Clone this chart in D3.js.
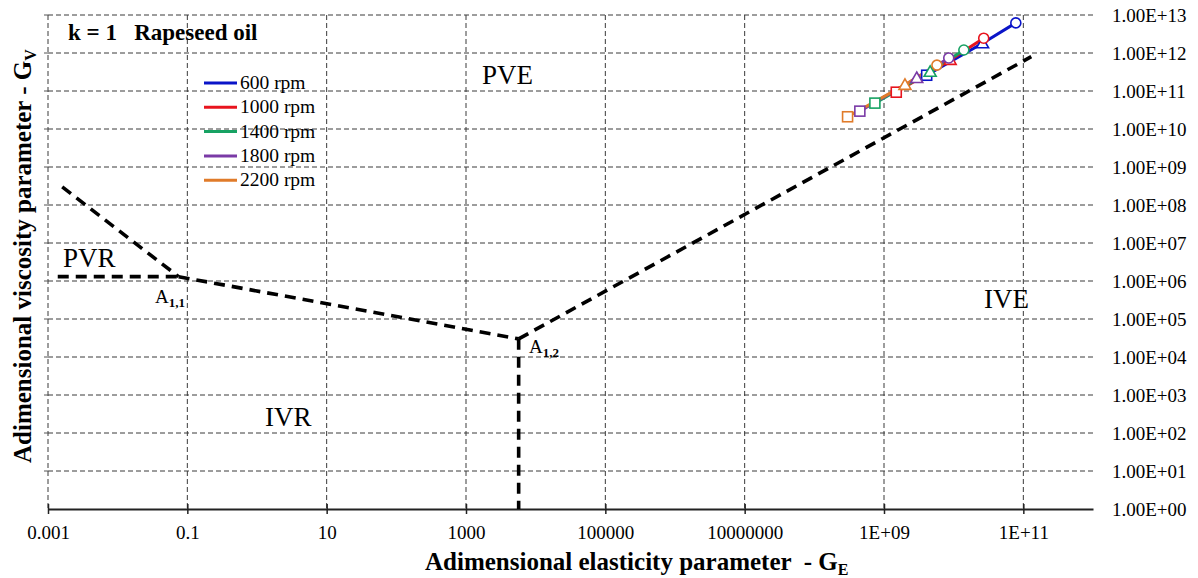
<!DOCTYPE html>
<html><head><meta charset="utf-8">
<script src="https://cdn.jsdelivr.net/npm/d3@7"></script>
<style>body{margin:0;background:#fff}svg{display:block}text{font-family:"Liberation Serif","Times New Roman",serif;fill:#000}</style>
</head><body><svg id="c" width="1198" height="578"></svg>
<script>
// ---- data ----
const xTickValues = [1e-3, 1e-1, 1e1, 1e3, 1e5, 1e7, 1e9, 1e11];
const xTickLabels = ["0.001", "0.1", "10", "1000", "100000", "10000000", "1E+09", "1E+11"];
const yTickValues = [1e0,1e1,1e2,1e3,1e4,1e5,1e6,1e7,1e8,1e9,1e10,1e11,1e12,1e13];
const yTickLabels = ["1.00E+00","1.00E+01","1.00E+02","1.00E+03","1.00E+04","1.00E+05","1.00E+06","1.00E+07","1.00E+08","1.00E+09","1.00E+10","1.00E+11","1.00E+12","1.00E+13"];

const seriesNames = ["600 rpm", "1000 rpm", "1400 rpm", "1800 rpm", "2200 rpm"];
const seriesColors = ["#0a14c8", "#e8141e", "#17a263", "#7a3aa6", "#e07b2a"];
const markerShapes = ["square", "triangle", "circle"];
const rpm600GE  = [4.1e9, 2.6e10, 7.8e10];
const rpm600GV  = [2.6e11, 1.8e12, 6.2e12];
const rpm1000GE = [1.5e9, 8.9e9, 2.7e10];
const rpm1000GV = [9.3e10, 6.6e11, 2.45e12];
const rpm1400GE = [7.4e8, 4.6e9, 1.4e10];
const rpm1400GV = [4.8e10, 3.2e11, 1.2e12];
const rpm1800GE = [4.5e8, 2.95e9, 8.5e9];
const rpm1800GV = [2.95e10, 2.2e11, 7.4e11];
const rpm2200GE = [3.0e8, 2.0e9, 5.75e9];
const rpm2200GV = [2.1e10, 1.45e11, 4.8e11];

// regime boundaries (G_E, G_V)
const pvrHorizontal = [[1.38e-3, 1.3e6], [0.075, 1.3e6]];
const pvrUpper      = [[1.6e-3, 3.0e8], [0.075, 1.3e6]];
const a11ToA12      = [[0.075, 1.3e6], [5700, 3.0e4]];
const a12Vertical   = [[5700, 3.0e4], [5700, 1]];
const a12ToPVE      = [[5700, 3.0e4], [1.3e11, 8.0e11]];

// ---- drawing ----
const svg = d3.select("#c");
const L = 48, R = 1093, T = 15, B = 509;
const x = d3.scaleLog().domain([1e-3, 1e12]).range([L, R]);
const y = d3.scaleLog().domain([1, 1e13]).range([B, T]);

// horizontal grid
svg.append("g").selectAll("line").data(yTickValues.slice(1)).join("line")
  .attr("x1", L).attr("x2", R).attr("y1", d => y(d)).attr("y2", d => y(d))
  .attr("stroke", "#3a3a3a").attr("stroke-width", 1).attr("stroke-dasharray", "5,3");
// vertical grid
svg.append("g").selectAll("line").data(xTickValues).join("line")
  .attr("x1", d => x(d)).attr("x2", d => x(d)).attr("y1", T).attr("y2", B)
  .attr("stroke", "#3a3a3a").attr("stroke-width", 1).attr("stroke-dasharray", "5,3");
// left small ticks
svg.append("g").selectAll("line").data(yTickValues.slice(1)).join("line")
  .attr("x1", L - 4).attr("x2", L).attr("y1", d => y(d)).attr("y2", d => y(d))
  .attr("stroke", "#555").attr("stroke-width", 1);

// x axis
const xAxis = d3.axisBottom(x).tickValues(xTickValues)
  .tickFormat((d, i) => xTickLabels[i]).tickSizeInner(5).tickSizeOuter(0).tickPadding(12);
const gx = svg.append("g").attr("transform", `translate(0,${B})`).call(xAxis);
gx.select(".domain").attr("stroke", "#222").attr("stroke-width", 2);
gx.selectAll(".tick line").attr("stroke", "#222").attr("stroke-width", 1.5).attr("y1", -5).attr("y2", 5);
gx.selectAll(".tick text").attr("font-size", 19).attr("font-family", "Liberation Serif").attr("fill", "#000");

// y labels on right
const yAxis = d3.axisRight(y).tickValues(yTickValues)
  .tickFormat((d, i) => yTickLabels[i]).tickSize(0).tickPadding(0);
const gy = svg.append("g").attr("transform", `translate(1112,0)`).call(yAxis);
gy.select(".domain").remove();
gy.selectAll(".tick text").attr("font-size", 19).attr("font-family", "Liberation Serif").attr("fill", "#000");

// boundaries
const line = d3.line().x(d => x(d[0])).y(d => y(d[1]));
[pvrHorizontal, pvrUpper, a11ToA12, a12Vertical, a12ToPVE].forEach(seg => {
  svg.append("path").attr("d", line(seg)).attr("fill", "none")
    .attr("stroke", "#000").attr("stroke-width", 3.6).attr("stroke-dasharray", "11,7");
});

// series
const series = [
  [rpm600GE, rpm600GV], [rpm1000GE, rpm1000GV], [rpm1400GE, rpm1400GV],
  [rpm1800GE, rpm1800GV], [rpm2200GE, rpm2200GV]
];
series.forEach((s, i) => {
  const pts = s[0].map((g, j) => [g, s[1][j]]);
  svg.append("path").attr("d", line(pts)).attr("fill", "none")
    .attr("stroke", seriesColors[i]).attr("stroke-width", 3);
});
series.forEach((s, i) => {
  const pts = s[0].map((g, j) => [g, s[1][j]]);
  pts.forEach((p, j) => {
    const cx = x(p[0]), cy = y(p[1]);
    const shape = markerShapes[j];
    let el;
    if (shape === "circle") el = svg.append("circle").attr("cx", cx).attr("cy", cy).attr("r", 5);
    else if (shape === "square") el = svg.append("rect").attr("x", cx - 5).attr("y", cy - 5).attr("width", 10).attr("height", 10);
    else el = svg.append("path").attr("d", `M${cx},${cy-6}L${cx+6},${cy+4.5}L${cx-6},${cy+4.5}Z`);
    el.attr("fill", "#fff").attr("stroke", seriesColors[i]).attr("stroke-width", 1.6);
  });
});

// legend
const lg = svg.append("g");
seriesNames.forEach((n, i) => {
  const yy = 83 + i * 24.3;
  lg.append("line").attr("x1", 204).attr("x2", 237).attr("y1", yy).attr("y2", yy)
    .attr("stroke", seriesColors[i]).attr("stroke-width", 3);
  lg.append("text").attr("x", 240).attr("y", yy + 6).attr("font-size", 19.5).text(n);
});

// annotations
svg.append("text").attr("x", 68).attr("y", 40).attr("font-size", 23).attr("font-weight", "bold")
  .attr("xml:space", "preserve").text("k = 1   Rapeseed oil");
svg.append("text").attr("x", 482).attr("y", 84).attr("font-size", 27).text("PVE");
svg.append("text").attr("x", 63).attr("y", 267).attr("font-size", 27).text("PVR");
svg.append("text").attr("x", 265).attr("y", 426).attr("font-size", 27).text("IVR");
svg.append("text").attr("x", 984).attr("y", 308).attr("font-size", 27).text("IVE");

const a11 = svg.append("text").attr("x", 155).attr("y", 303).attr("font-size", 19);
a11.append("tspan").text("A");
a11.append("tspan").attr("font-size", 13).attr("font-weight", "bold").attr("dy", 4).text("1,1");
const a12 = svg.append("text").attr("x", 529).attr("y", 353).attr("font-size", 19);
a12.append("tspan").text("A");
a12.append("tspan").attr("font-size", 13).attr("font-weight", "bold").attr("dy", 4).text("1,2");

// axis titles
const xt = svg.append("text").attr("x", 425).attr("y", 570).attr("font-size", 25).attr("font-weight", "bold");
xt.append("tspan").attr("xml:space", "preserve").text("Adimensional elasticity parameter  - G");
xt.append("tspan").attr("font-size", 16).attr("dy", 5).text("E");

const yt = svg.append("text").attr("transform", "translate(31,463) rotate(-90)").attr("font-size", 25).attr("font-weight", "bold");
yt.append("tspan").text("Adimensional viscosity parameter - G");
yt.append("tspan").attr("font-size", 16).attr("dy", 5).text("V");
</script></body></html>
